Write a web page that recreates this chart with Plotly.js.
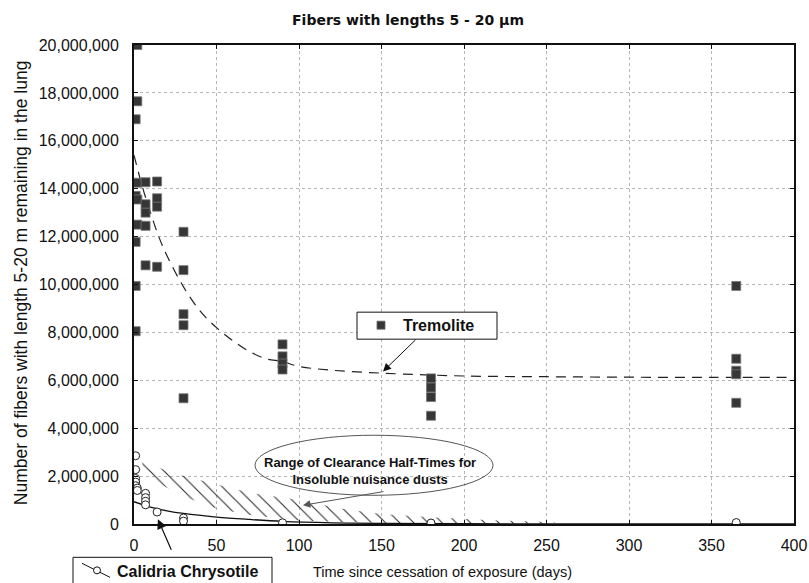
<!DOCTYPE html>
<html>
<head>
<meta charset="utf-8">
<script src="https://cdn.plot.ly/plotly-3.0.1.min.js"></script>
<style>html,body{margin:0;padding:0;background:#fff;}#chart{width:809px;height:583px;}</style>
</head>
<body>
<div id="chart"></div>
<script>
// ---- Data ----
const tremoliteDays = [1,1,1,1,1, 2,2,2,2,2, 7,7,7,7,7, 14,14,14,14, 30,30,30,30,30, 90,90,90,90, 180,180,180,180, 365,365,365,365,365];
const tremoliteFibers = [16900000,13700000,11780000,9940000,8050000,
  20000000,17650000,14250000,13550000,12500000,
  14270000,13350000,13000000,12450000,10800000,
  14300000,13600000,13250000,10740000,
  12200000,10600000,8760000,8300000,5250000,
  7500000,7000000,6700000,6450000,
  6080000,5700000,5300000,4520000,
  9940000,6900000,6400000,6250000,5060000];

const chrysotileDays = [1,1,1,1,1, 2,2, 7,7,7,7, 14, 30,30, 90, 180, 365];
const chrysotileFibers = [2850000,2270000,1900000,1750000,1600000,
  1500000,1400000,
  1280000,1100000,950000,800000,
  500000,
  250000,120000,
  50000, 40000, 60000];

// fitted curves
const tremoliteFitDays = [0,5,10,15,20,30,40,50,60,70,80,90,100,120,150,200,250,300,350,400];
const tremoliteFit = [15400000,14100000,13000000,12000000,11200000,9900000,8900000,8200000,7650000,7200000,6900000,6780000,6580000,6420000,6300000,6180000,6150000,6130000,6120000,6120000];

const chrysotileFitDays = [0,10,20,30,50,70,90,120,150,200,300,400];
const chrysotileFit = [930000,700000,550000,440000,290000,190000,110000,50000,25000,10000,3000,0];

// range of clearance half-times band
const bandDays = [5,15,30,50,70,100,125,150,180,220,255];
const bandUpper = [2750000,2350000,2000000,1650000,1300000,1000000,650000,420000,280000,150000,70000];
const bandLower = [2400000,1700000,1150000,650000,380000,150000,80000,45000,25000,15000,15000];

const xTicks = [0,50,100,150,200,250,300,350,400];
const yTicks = [0,2000000,4000000,6000000,8000000,10000000,12000000,14000000,16000000,18000000,20000000];

// ---- Traces ----
const traces = [
  {x: bandDays, y: bandLower, mode:'lines', line:{width:0, color:'rgba(0,0,0,0)'}, hoverinfo:'skip', showlegend:false},
  {x: bandDays, y: bandUpper, mode:'lines', line:{width:0, color:'rgba(0,0,0,0)'}, fill:'tonexty',
   fillcolor:'rgba(0,0,0,0)',
   fillpattern:{shape:'\\', size:10, solidity:0.1, fgcolor:'#222', bgcolor:'rgba(0,0,0,0)'},
   hoverinfo:'skip', showlegend:false},
  {x: tremoliteFitDays, y: tremoliteFit, mode:'lines', line:{color:'#222', width:1.2, dash:'10px,7px', shape:'spline'}, showlegend:false},
  {x: chrysotileFitDays, y: chrysotileFit, mode:'lines', line:{color:'#111', width:1.3, shape:'spline'}, showlegend:false},
  {x: tremoliteDays, y: tremoliteFibers, mode:'markers', name:'Tremolite',
   marker:{symbol:'square', size:9, color:'#363636', line:{color:'#777', width:0.8}}, showlegend:false},
  {x: chrysotileDays, y: chrysotileFibers, mode:'markers', name:'Calidria Chrysotile',
   marker:{symbol:'circle', size:8, color:'#fff', line:{color:'#222', width:1}}, showlegend:false}
];

const PL = 134, PT = 45, PW = 660, PH = 478.7;
const px = v => (v - PL) / PW;
const py = v => (PT + PH - v) / PH;

const layout = {
  width: 809, height: 583,
  margin: {l: PL, r: 809 - PL - PW, t: PT, b: 583 - PT - PH},
  paper_bgcolor:'#fff', plot_bgcolor:'#fff',
  font: {family:'Liberation Sans, Arial, sans-serif', color:'#111'},
  title: {text:'<b>Fibers with lengths 5 - 20 µm</b>', font:{family:'DejaVu Sans, sans-serif', size:14, color:'#111'},
          x: 408/809, xref:'container', xanchor:'center', y: 1 - 20/583, yref:'container', yanchor:'middle'},
  xaxis: {range:[0,400], tickvals: xTicks, ticktext: xTicks.map(String), showgrid:true, gridcolor:'#b5b5b5', griddash:'dot', gridwidth:1,
          showline:true, linecolor:'#111', linewidth:2, mirror:'ticks', ticks:'inside', ticklen:4, tickcolor:'#111',
          tickfont:{size:16, color:'#111'}, ticklabelstandoff:6, zeroline:false},
  yaxis: {range:[0,20000000], tickvals: yTicks, tickformat:',d', showgrid:true, gridcolor:'#b5b5b5', griddash:'dot', gridwidth:1,
          showline:true, linecolor:'#111', linewidth:2, mirror:'ticks', ticks:'inside', ticklen:4, tickcolor:'#111',
          tickfont:{size:16, color:'#111'}, ticklabelstandoff:10, zeroline:false},
  shapes: [
    // Tremolite legend box
    {type:'rect', xref:'paper', yref:'paper', x0:px(357), x1:px(497), y0:py(339), y1:py(312), line:{color:'#111', width:1}, fillcolor:'#fff', layer:'above'},
    {type:'rect', xref:'paper', yref:'paper', x0:px(377), x1:px(385), y0:py(329), y1:py(321), line:{color:'#666', width:0.8}, fillcolor:'#363636', layer:'above'},
    // Chrysotile legend box
    {type:'rect', xref:'paper', yref:'paper', x0:px(73), x1:px(272), y0:py(592), y1:py(557), line:{color:'#111', width:1}, fillcolor:'#fff', layer:'above'},
    {type:'line', xref:'paper', yref:'paper', x0:px(82), y0:py(563), x1:px(110), y1:py(577), line:{color:'#111', width:1}, layer:'above'},
    {type:'circle', xref:'paper', yref:'paper', x0:px(93.5), x1:px(100.5), y0:py(573.5), y1:py(566.5), line:{color:'#111', width:1}, fillcolor:'#fff', layer:'above'},
    // Ellipse
    {type:'circle', xref:'paper', yref:'paper', x0:px(255), x1:px(493), y0:py(495), y1:py(435), line:{color:'#555', width:1}, fillcolor:'rgba(255,255,255,0)', layer:'above'}
  ],
  annotations: [
    {xref:'paper', yref:'paper', x:px(401), y:py(325), xanchor:'left', yanchor:'middle', showarrow:false,
     text:'<b>Tremolite</b>', font:{size:16, color:'#111'}},
    {xref:'paper', yref:'paper', x:px(115), y:py(571), xanchor:'left', yanchor:'middle', showarrow:false,
     text:'<b>Calidria Chrysotile</b>', font:{size:16, color:'#111'}},
    {xref:'paper', yref:'paper', x:px(370), y:py(471), xanchor:'center', yanchor:'middle', showarrow:false,
     text:'<b>Range of Clearance Half-Times for<br>Insoluble nuisance dusts</b>', font:{family:'Liberation Sans Narrow, Liberation Sans, Arial, sans-serif', size:13, color:'#111'}},
    {xref:'paper', yref:'paper', x:px(442), y:py(572), xanchor:'center', yanchor:'middle', showarrow:false,
     text:'Time since cessation of exposure (days)', font:{size:14.5, color:'#111'}},
    {xref:'paper', yref:'paper', x:px(21), y:py(283), xanchor:'center', yanchor:'middle', showarrow:false, textangle:-90,
     text:'Number of fibers with length 5-20 m remaining in the lung', font:{size:17.5, color:'#111'}},
    // arrows
    {xref:'x', yref:'y', x:150.9, y:6370000, ax:34, ay:-33, text:'', showarrow:true, arrowhead:2, arrowsize:1.6, arrowwidth:1, arrowcolor:'#111'},
    {xref:'x', yref:'y', x:14.5, y:200000, ax:14, ay:32, text:'', showarrow:true, arrowhead:2, arrowsize:1.6, arrowwidth:1.2, arrowcolor:'#111'},
    {xref:'x', yref:'y', x:102.4, y:780000, ax:82, ay:-14, text:'', showarrow:true, arrowhead:2, arrowsize:1.5, arrowwidth:1, arrowcolor:'#555'}
  ]
};

Plotly.newPlot('chart', traces, layout, {displayModeBar:false, staticPlot:true});
</script>
</body>
</html>
